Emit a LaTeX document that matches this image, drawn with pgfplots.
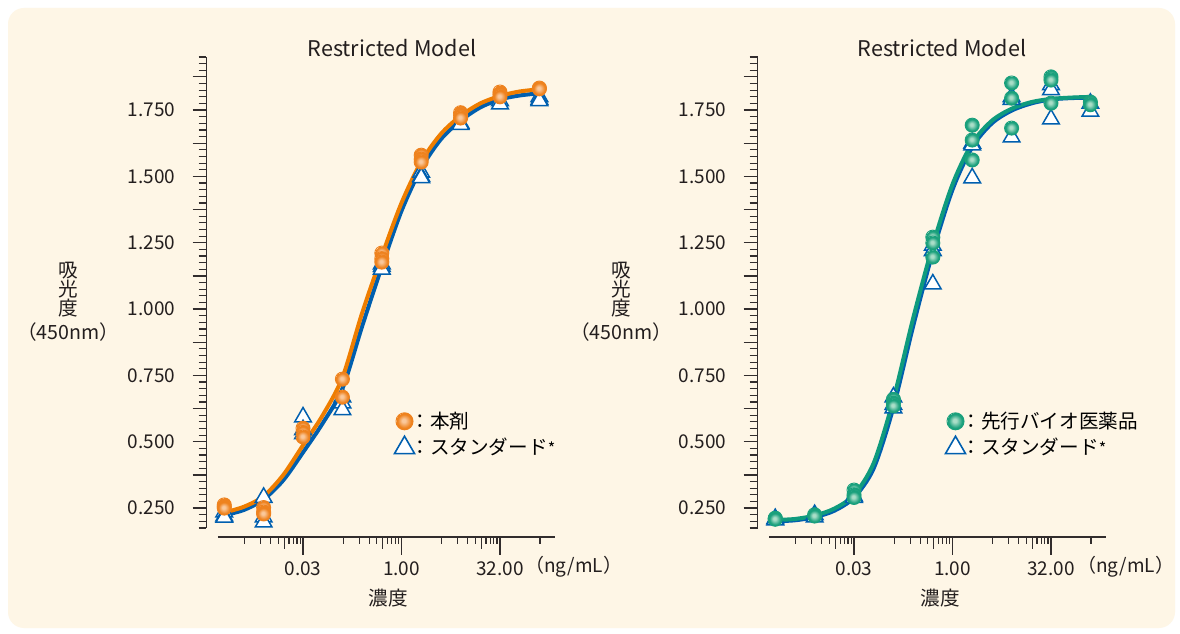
\documentclass[border=0pt]{standalone}
\usepackage{fontspec}
\setmainfont{Noto Sans CJK JP}
\usepackage{pgfplots}
\pgfplotsset{compat=1.18}

\definecolor{bgc}{RGB}{254,246,230}
\definecolor{tk}{RGB}{50,45,45}
\definecolor{txt}{RGB}{35,30,30}
\definecolor{oline}{RGB}{238,125,0}
\definecolor{bline}{RGB}{0,95,175}
\definecolor{gline}{RGB}{15,155,125}
\definecolor{oc}{RGB}{250,200,155}
\definecolor{oe}{RGB}{238,130,30}
\definecolor{gc}{RGB}{170,222,200}
\definecolor{ge}{RGB}{26,160,124}

\pgfdeclareradialshading{oball}{\pgfpoint{-3bp}{3bp}}{color(0bp)=(oc); color(5bp)=(oc); color(20bp)=(oe); color(25bp)=(oe)}
\pgfdeclareradialshading{gball}{\pgfpoint{-3bp}{3bp}}{color(0bp)=(gc); color(5bp)=(gc); color(20bp)=(ge); color(25bp)=(ge)}
\pgfdeclareplotmark{oball}{\pgfpathcircle{\pgfpointorigin}{\pgfplotmarksize}\pgfshadepath{oball}{0}\pgfusepath{stroke}}
\pgfdeclareplotmark{gball}{\pgfpathcircle{\pgfpointorigin}{\pgfplotmarksize}\pgfshadepath{gball}{0}\pgfusepath{stroke}}

\newcommand{\tkfont}{\fontsize{9.5}{10}\selectfont}
\newcommand{\lbfont}{\fontsize{9.8}{10.5}\selectfont}
\newcommand{\stdast}{{\fontsize{8}{8}\selectfont *}}

\begin{document}
\begin{tikzpicture}[x=1pt,y=1pt]
\fill[white] (0,0) rectangle (590,316.5);
\fill[bgc, rounded corners=8pt] (4,2.5) rectangle (587.5,312.5);

% ---------------- left panel: y axis and data ----------------
\begin{axis}[
    at={(103.25pt,52.5pt)}, anchor=south west, scale only axis,
    width=174.25pt, height=235.5pt,
    xmode=log, xmin=0.0010457, xmax=221.8,
    ymin=0.175, ymax=1.95,
    axis x line=none, axis y line*=left,
    y axis line style={-, line width=0.6pt, draw=tk},
    ytick={0.25,0.375,0.5,0.625,0.75,0.875,1,1.125,1.25,1.375,1.5,1.625,1.75,1.875},
    yticklabels={0.250,,0.500,,0.750,,1.000,,1.250,,1.500,,1.750,},
    minor ytick={0.175,0.2,0.225,0.275,0.3,0.325,0.35,0.4,0.425,0.45,0.475,
      0.525,0.55,0.575,0.6,0.65,0.675,0.7,0.725,0.775,0.8,0.825,0.85,
      0.9,0.925,0.95,0.975,1.025,1.05,1.075,1.1,1.15,1.175,1.2,1.225,
      1.275,1.3,1.325,1.35,1.4,1.425,1.45,1.475,1.525,1.55,1.575,1.6,
      1.65,1.675,1.7,1.725,1.775,1.8,1.825,1.85,1.9,1.925,1.95},
    tick align=outside, major tick length=7pt, minor tick length=4pt,
    tick style={draw=tk, line width=0.6pt},
    yticklabel style={font=\tkfont, text=txt, xshift=-5pt},
    clip=false,
    legend cell align=left,
    legend style={draw=none, fill=none, font=\lbfont,
      at={(axis description cs:0.521,0.265)}, anchor=north west, row sep=-0.5pt},
]
\addlegendimage{only marks, mark=oball, mark size=4.25pt, mark options={draw=oe, line width=0.5pt}}
\addlegendentry{\hspace{-4pt}：本剤}
\addlegendimage{only marks, mark=triangle*, mark size=5.8pt, mark options={draw=bline, fill=white, line width=0.8pt}}
\addlegendentry{\hspace{-4pt}：スタンダード\stdast}
\addplot[forget plot, draw=bline, line width=2pt, smooth] coordinates {
 (0.00185,0.222) (0.0039,0.243) (0.0078,0.283) (0.0156,0.355) (0.03125,0.46)
 (0.0625,0.57) (0.125,0.70) (0.25,0.935) (0.5,1.16) (1,1.37) (2,1.53)
 (4,1.64) (8,1.71) (16,1.76) (32,1.79) (64,1.805) (150,1.815)};
\addplot[forget plot, draw=oline, line width=2pt, smooth] coordinates {
 (0.00185,0.232) (0.0039,0.255) (0.0078,0.295) (0.0156,0.375) (0.03125,0.487)
 (0.0625,0.60) (0.125,0.742) (0.25,0.985) (0.5,1.20) (1,1.40) (2,1.555)
 (4,1.66) (8,1.728) (16,1.775) (32,1.803) (64,1.82) (150,1.83)};
\addplot[forget plot, only marks, mark=triangle*, mark size=4.8pt, mark options={draw=bline, fill=white, line width=0.75pt}] coordinates {
 (0.001953,0.235) (0.001953,0.22) (0.001953,0.215)
 (0.0078125,0.29) (0.0078125,0.216) (0.0078125,0.197)
 (0.03125,0.593) (0.03125,0.545) (0.03125,0.53)
 (0.125,0.668) (0.125,0.646) (0.125,0.62)
 (0.5,1.17) (0.5,1.16) (0.5,1.15)
 (2,1.515) (2,1.50) (2,1.495)
 (8,1.70) (8,1.695)
 (32,1.785) (32,1.773)
 (128,1.80) (128,1.79) (128,1.785)};
\addplot[forget plot, only marks, mark=oball, mark size=3.5pt, mark options={draw=oe, line width=0.5pt}] coordinates {
 (0.001953,0.262) (0.001953,0.255) (0.001953,0.25)
 (0.0078125,0.252) (0.0078125,0.235) (0.0078125,0.228)
 (0.03125,0.551) (0.03125,0.535) (0.03125,0.518)
 (0.125,0.736) (0.125,0.668)
 (0.5,1.211) (0.5,1.19) (0.5,1.177)
 (2,1.58) (2,1.565) (2,1.554)
 (8,1.74) (8,1.73) (8,1.72)
 (32,1.818) (32,1.81) (32,1.80)
 (128,1.833) (128,1.83)};
\end{axis}

% ---------------- left panel: detached x axis ----------------
\begin{axis}[
    at={(109pt,48pt)}, anchor=south west, scale only axis,
    width=168.5pt, height=10pt,
    xmode=log, xmin=0.0015676, xmax=221.8, ymin=0, ymax=1,
    axis x line*=bottom, axis y line=none,
    x axis line style={-, line width=0.6pt, draw=tk},
    xtick={0.03125,1,32}, xticklabels={0.03,1.00,32.00},
    minor xtick={0.0040039,0.0070313,0.0100586,0.0130859,0.0191406,0.022168,0.0251953,0.0282227,
      0.128125,0.225,0.321875,0.41875,0.6125,0.709375,0.80625,0.903125,
      4.1,7.2,10.3,13.4,19.6,22.7,25.8,28.9,131.2},
    extra x ticks={0.0161133,0.515625,16.5}, extra x tick labels={},
    extra x tick style={major tick length=6pt},
    tick align=outside, major tick length=9pt, minor tick length=3.5pt,
    tick style={draw=tk, line width=0.6pt},
    xticklabel style={font=\tkfont, text=txt},
]
\end{axis}

% ---------------- right panel: y axis and data ----------------
\begin{axis}[
    at={(378.75pt,52.5pt)}, anchor=south west, scale only axis,
    width=174.25pt, height=235.5pt,
    xmode=log, xmin=0.0010457, xmax=221.8,
    ymin=0.175, ymax=1.95,
    axis x line=none, axis y line*=left,
    y axis line style={-, line width=0.6pt, draw=tk},
    ytick={0.25,0.375,0.5,0.625,0.75,0.875,1,1.125,1.25,1.375,1.5,1.625,1.75,1.875},
    yticklabels={0.250,,0.500,,0.750,,1.000,,1.250,,1.500,,1.750,},
    minor ytick={0.175,0.2,0.225,0.275,0.3,0.325,0.35,0.4,0.425,0.45,0.475,
      0.525,0.55,0.575,0.6,0.65,0.675,0.7,0.725,0.775,0.8,0.825,0.85,
      0.9,0.925,0.95,0.975,1.025,1.05,1.075,1.1,1.15,1.175,1.2,1.225,
      1.275,1.3,1.325,1.35,1.4,1.425,1.45,1.475,1.525,1.55,1.575,1.6,
      1.65,1.675,1.7,1.725,1.775,1.8,1.825,1.85,1.9,1.925,1.95},
    tick align=outside, major tick length=7pt, minor tick length=4pt,
    tick style={draw=tk, line width=0.6pt},
    yticklabel style={font=\tkfont, text=txt, xshift=-5pt},
    clip=false,
    legend cell align=left,
    legend style={draw=none, fill=none, font=\lbfont,
      at={(axis description cs:0.521,0.265)}, anchor=north west, row sep=-0.5pt},
]
\addlegendimage{only marks, mark=gball, mark size=4.25pt, mark options={draw=ge, line width=0.5pt}}
\addlegendentry{\hspace{-4pt}：先行バイオ医薬品}
\addlegendimage{only marks, mark=triangle*, mark size=5.8pt, mark options={draw=bline, fill=white, line width=0.8pt}}
\addlegendentry{\hspace{-4pt}：スタンダード\stdast}
\addplot[forget plot, draw=bline, line width=2pt, smooth] coordinates {
 (0.00187,0.20) (0.0039,0.204) (0.0078,0.216) (0.0156,0.24) (0.03125,0.29)
 (0.0625,0.40) (0.125,0.63) (0.25,0.935) (0.5,1.215) (1,1.45) (2,1.61)
 (4,1.70) (8,1.748) (16,1.775) (32,1.79) (64,1.795) (140,1.797)};
\addplot[forget plot, draw=gline, line width=2pt, smooth] coordinates {
 (0.00187,0.205) (0.0039,0.209) (0.0078,0.222) (0.0156,0.248) (0.03125,0.30)
 (0.0625,0.42) (0.125,0.66) (0.25,0.965) (0.5,1.24) (1,1.47) (2,1.625)
 (4,1.71) (8,1.755) (16,1.78) (32,1.792) (64,1.797) (140,1.80)};
\addplot[forget plot, only marks, mark=triangle*, mark size=4.8pt, mark options={draw=bline, fill=white, line width=0.75pt}] coordinates {
 (0.001953,0.21) (0.001953,0.205)
 (0.0078125,0.225) (0.0078125,0.216)
 (0.03125,0.295) (0.03125,0.29)
 (0.125,0.668) (0.125,0.64) (0.125,0.627)
 (0.5,1.24) (0.5,1.22) (0.5,1.094)
 (2,1.625) (2,1.618) (2,1.494)
 (8,1.80) (8,1.79) (8,1.648)
 (32,1.845) (32,1.826) (32,1.716)
 (128,1.775) (128,1.745)};
\addplot[forget plot, only marks, mark=gball, mark size=3.5pt, mark options={draw=ge, line width=0.5pt}] coordinates {
 (0.001953,0.212) (0.001953,0.21) (0.001953,0.208)
 (0.0078125,0.225) (0.0078125,0.22)
 (0.03125,0.318) (0.03125,0.30) (0.03125,0.29)
 (0.125,0.66) (0.125,0.645) (0.125,0.635)
 (0.5,1.271) (0.5,1.249) (0.5,1.196)
 (2,1.693) (2,1.637) (2,1.562)
 (8,1.852) (8,1.795) (8,1.682)
 (32,1.875) (32,1.863) (32,1.776)
 (128,1.78) (128,1.77)};
\end{axis}

% ---------------- right panel: detached x axis ----------------
\begin{axis}[
    at={(384.5pt,48pt)}, anchor=south west, scale only axis,
    width=168.5pt, height=10pt,
    xmode=log, xmin=0.0015676, xmax=221.8, ymin=0, ymax=1,
    axis x line*=bottom, axis y line=none,
    x axis line style={-, line width=0.6pt, draw=tk},
    xtick={0.03125,1,32}, xticklabels={0.03,1.00,32.00},
    minor xtick={0.0040039,0.0070313,0.0100586,0.0130859,0.0191406,0.022168,0.0251953,0.0282227,
      0.128125,0.225,0.321875,0.41875,0.6125,0.709375,0.80625,0.903125,
      4.1,7.2,10.3,13.4,19.6,22.7,25.8,28.9,131.2},
    extra x ticks={0.0161133,0.515625,16.5}, extra x tick labels={},
    extra x tick style={major tick length=6pt},
    tick align=outside, major tick length=9pt, minor tick length=3.5pt,
    tick style={draw=tk, line width=0.6pt},
    xticklabel style={font=\tkfont, text=txt},
]
\end{axis}

% ---------------- texts ----------------
\begin{scope}[every node/.style={text=txt, inner sep=0pt}]
\node[font=\fontsize{10.8}{12}\selectfont] at (196,292.5) {Restricted Model};
\node[font=\fontsize{10.8}{12}\selectfont] at (471,292.5) {Restricted Model};
\node[font=\fontsize{9.8}{9.5}\selectfont, align=center] at (34,165.5) {吸\\光\\度\\[2.5pt]（450nm）};
\node[font=\fontsize{9.8}{9.5}\selectfont, align=center] at (310.5,165.5) {吸\\光\\度\\[2.5pt]（450nm）};
\node[font=\lbfont] at (194,17.5) {濃度};
\node[font=\lbfont] at (470,17.5) {濃度};
\node[font=\tkfont, anchor=west] at (262.5,33) {（ng/mL）};
\node[font=\tkfont, anchor=west] at (538.5,33) {（ng/mL）};
\end{scope}
\end{tikzpicture}
\end{document}
